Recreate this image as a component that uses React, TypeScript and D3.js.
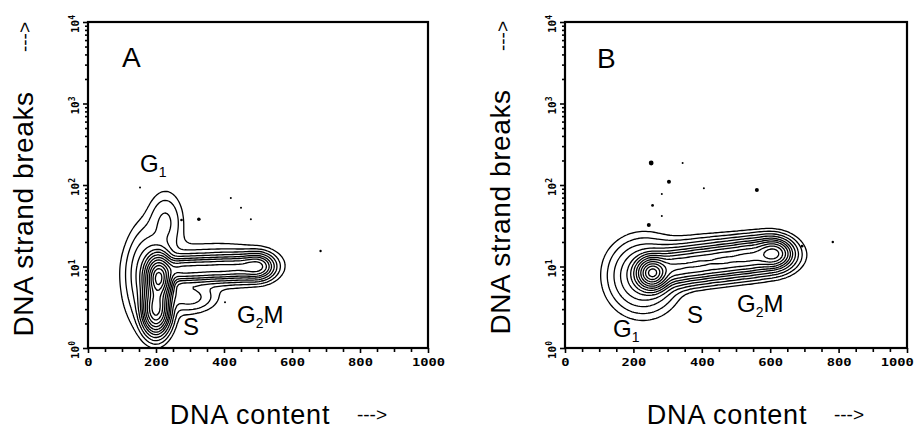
import React, { useEffect, useRef } from 'react';
import * as d3 from 'd3';

// axis ticks
const xMajorTicks = [0, 200, 400, 600, 800, 1000];
const xMinorTicks = [50, 100, 150, 250, 300, 350, 450, 500, 550, 650, 700, 750, 850, 900, 950];
const yDecades = [0, 1, 2, 3, 4];
const yMinorSteps = [2, 3, 4, 5, 6, 7, 8, 9];

// contour levels, as a fraction of the peak density
const contourLevels = [0.005, 0.012, 0.025, 0.045, 0.075, 0.11, 0.16, 0.23, 0.32, 0.44, 0.58, 0.74, 0.9];

// Panel A: cell populations (DNA content, log10 strand breaks, spreads, weight)
const aCenterX = [208, 200, 175, 270, 330, 390, 450, 500, 380, 228, 300, 195];
const aCenterLogY = [0.86, 0.48, 0.9, 0.96, 0.97, 0.98, 0.99, 1.0, 1.02, 1.55, 0.62, 0.8];
const aSpreadX = [20, 20, 32, 32, 32, 32, 32, 25, 110, 28, 42, 55];
const aSpreadLogY = [0.14, 0.15, 0.3, 0.08, 0.08, 0.08, 0.08, 0.08, 0.16, 0.2, 0.1, 0.35];
const aWeight = [1.0, 0.7, 0.06, 0.22, 0.2, 0.2, 0.2, 0.25, 0.02, 0.03, 0.035, 0.015];

// Panel A: isolated events
const aDotX = [153, 420, 450, 479, 684, 403, 275, 326];
const aDotLogY = [1.97, 1.84, 1.72, 1.58, 1.19, 0.56, 1.57, 1.58];
const aDotSize = [1, 1, 1, 1, 1.2, 1, 1.3, 1.8];

// Panel B: cell populations
const bCenterX = [255, 228, 320, 390, 460, 530, 600, 612, 440];
const bCenterLogY = [0.92, 0.88, 0.99, 1.03, 1.07, 1.11, 1.15, 1.16, 1.12];
const bSpreadX = [24, 50, 36, 36, 36, 36, 36, 24, 115];
const bSpreadLogY = [0.1, 0.22, 0.11, 0.11, 0.11, 0.11, 0.11, 0.08, 0.14];
const bWeight = [1.0, 0.12, 0.3, 0.28, 0.28, 0.3, 0.3, 0.3, 0.03];

// Panel B: isolated events
const bDotX = [252, 344, 304, 406, 561, 283, 256, 283, 245, 693, 783];
const bDotLogY = [2.27, 2.27, 2.04, 1.96, 1.94, 1.89, 1.75, 1.62, 1.51, 1.25, 1.3];
const bDotSize = [2.4, 1, 2, 1, 2, 1, 1.4, 1, 2, 1.4, 1.2];

const W = 914;
const H = 430;
const mono = '"DejaVu Sans Mono", monospace';
const sans = '"Liberation Sans", Arial, sans-serif';

const panels = [
  {
    id: 'A', left: 88, right: 428, top: 22, bottom: 348,
    cx: aCenterX, cy: aCenterLogY, sx: aSpreadX, sy: aSpreadLogY, w: aWeight,
    dx: aDotX, dy: aDotLogY, ds: aDotSize,
    letter: [122, 67],
    g1: [140, 172], s: [183, 335], g2m: [237, 323],
    yTitle: [33, 214], yArrow: [31, 37], xTitle: [250, 424], xArrow: [372, 421],
  },
  {
    id: 'B', left: 565, right: 907, top: 22, bottom: 348,
    cx: bCenterX, cy: bCenterLogY, sx: bSpreadX, sy: bSpreadLogY, w: bWeight,
    dx: bDotX, dy: bDotLogY, ds: bDotSize,
    letter: [597, 68],
    g1: [613, 337], s: [687, 323], g2m: [737, 312],
    yTitle: [510, 212], yArrow: [509, 36], xTitle: [727, 424], xArrow: [849, 421],
  },
];

const App = () => {
  const ref = useRef<SVGSVGElement>(null);

  useEffect(() => {
    const svg = d3.select(ref.current);
    svg.selectAll('*').remove();

    panels.forEach((p) => {
      const x = d3.scaleLinear().domain([0, 1000]).range([p.left, p.right]);
      const y = d3.scaleLog().domain([1, 10000]).range([p.bottom, p.top]);
      const g = svg.append('g');

      // density grid
      const cell = 2;
      const nx = Math.ceil((p.right - p.left) / cell);
      const ny = Math.ceil((p.bottom - p.top) / cell);
      const values = new Array(nx * ny);
      for (let j = 0; j < ny; j++) {
        const ly = Math.log10(y.invert(p.top + (j + 0.5) * cell));
        for (let i = 0; i < nx; i++) {
          const dv = x.invert(p.left + (i + 0.5) * cell);
          let s = 0;
          for (let k = 0; k < p.cx.length; k++) {
            const a = (dv - p.cx[k]) / p.sx[k];
            const b = (ly - p.cy[k]) / p.sy[k];
            s += p.w[k] * Math.exp(-0.5 * (a * a + b * b));
          }
          values[j * nx + i] = s;
        }
      }
      const peak = d3.max(values) as number;
      const contours = d3.contours().size([nx, ny]).thresholds(contourLevels.map((l) => l * peak))(values);
      const path = d3.geoPath(d3.geoIdentity().scale(cell) as any);

      g.append('g')
        .attr('transform', `translate(${p.left},${p.top})`)
        .selectAll('path')
        .data(contours)
        .enter()
        .append('path')
        .attr('d', (d) => path(d as any))
        .attr('fill', 'none')
        .attr('stroke', '#000')
        .attr('stroke-width', 1.3)
        .attr('stroke-linejoin', 'round');

      // isolated events
      g.selectAll('.dot')
        .data(p.dx.map((v, i) => [v, p.dy[i], p.ds[i]]))
        .enter()
        .append('circle')
        .attr('cx', (d) => x(d[0]))
        .attr('cy', (d) => y(Math.pow(10, d[1])))
        .attr('r', (d) => d[2])
        .attr('fill', '#000');

      // frame
      g.append('rect')
        .attr('x', p.left)
        .attr('y', p.top)
        .attr('width', p.right - p.left)
        .attr('height', p.bottom - p.top)
        .attr('fill', 'none')
        .attr('stroke', '#000')
        .attr('stroke-width', 2.2);

      // x axis
      const xa = g.append('g').attr('transform', `translate(0,${p.bottom})`);
      xa.call(d3.axisBottom(x).tickValues(xMinorTicks).tickSize(4).tickFormat(() => ''));
      xa.append('g').call(
        d3.axisBottom(x).tickValues(xMajorTicks).tickSize(5).tickPadding(5).tickFormat(d3.format('d'))
      );
      xa.selectAll('.domain').remove();
      xa.selectAll('line').attr('stroke-width', 1.6);
      xa.selectAll('text')
        .attr('font-family', mono)
        .attr('font-weight', 'bold')
        .attr('font-size', 11)
        .attr('fill', '#000')
        .attr('transform', 'scale(1.25,1)');
      if (p.id === 'B') {
        xa.selectAll('text').filter((d) => d === 1000).attr('text-anchor', 'end').attr('x', (914 - p.right) / 1.25 - 0.5);
      }

      // y axis
      const minor: number[] = [];
      yDecades.slice(0, -1).forEach((dd) => yMinorSteps.forEach((m) => minor.push(m * Math.pow(10, dd))));
      const ya = g.append('g').attr('transform', `translate(${p.left},0)`);
      ya.call(d3.axisLeft(y).tickValues(minor).tickSize(3).tickFormat(() => ''));
      ya.append('g').call(
        d3.axisLeft(y).tickValues(yDecades.map((dd) => Math.pow(10, dd))).tickSize(5).tickFormat(() => '')
      );
      ya.selectAll('.domain').remove();
      ya.selectAll('line').attr('stroke-width', 1.6);

      const yl = g.selectAll('.ylab')
        .data(yDecades)
        .enter()
        .append('text')
        .attr('transform', (d) => `translate(${p.left - 9},${y(Math.pow(10, d)) + 11}) rotate(-90)`)
        .attr('font-family', mono)
        .attr('font-weight', 'bold')
        .attr('font-size', 11)
        .attr('fill', '#000');
      yl.append('tspan').text('10');
      yl.append('tspan').attr('dy', -4).attr('font-size', 8).text((d) => String(d));

      // titles
      g.append('text')
        .attr('transform', `translate(${p.yTitle[0]},${p.yTitle[1]}) rotate(-90)`)
        .attr('text-anchor', 'middle')
        .attr('font-family', sans)
        .attr('font-size', 28)
        .attr('letter-spacing', 0.6)
        .text('DNA strand breaks');
      g.append('text')
        .attr('transform', `translate(${p.yArrow[0]},${p.yArrow[1]}) rotate(-90)`)
        .attr('text-anchor', 'middle')
        .attr('font-family', sans)
        .attr('font-size', 19)
        .text('--->');
      g.append('text')
        .attr('x', p.xTitle[0])
        .attr('y', p.xTitle[1])
        .attr('text-anchor', 'middle')
        .attr('font-family', sans)
        .attr('font-size', 27)
        .attr('letter-spacing', 0.8)
        .text('DNA content');
      g.append('text')
        .attr('x', p.xArrow[0])
        .attr('y', p.xArrow[1])
        .attr('text-anchor', 'middle')
        .attr('font-family', sans)
        .attr('font-size', 19)
        .text('--->');

      // panel letter and phase labels
      g.append('text')
        .attr('x', p.letter[0])
        .attr('y', p.letter[1])
        .attr('font-family', sans)
        .attr('font-size', 28)
        .text(p.id);

      const g1 = g.append('text').attr('x', p.g1[0]).attr('y', p.g1[1]).attr('font-family', sans).attr('font-size', 24);
      g1.append('tspan').text('G');
      g1.append('tspan').attr('dy', 5).attr('font-size', 14).text('1');

      g.append('text').attr('x', p.s[0]).attr('y', p.s[1]).attr('font-family', sans).attr('font-size', 24).text('S');

      const g2 = g.append('text').attr('x', p.g2m[0]).attr('y', p.g2m[1]).attr('font-family', sans).attr('font-size', 24);
      g2.append('tspan').text('G');
      g2.append('tspan').attr('dy', 5).attr('font-size', 14).text('2');
      g2.append('tspan').attr('dy', -5).text('M');
    });
  }, []);

  return <svg ref={ref} width={W} height={H} style={{ position: 'absolute', left: 0, top: 0, background: '#fff' }} />;
};

export default App;
